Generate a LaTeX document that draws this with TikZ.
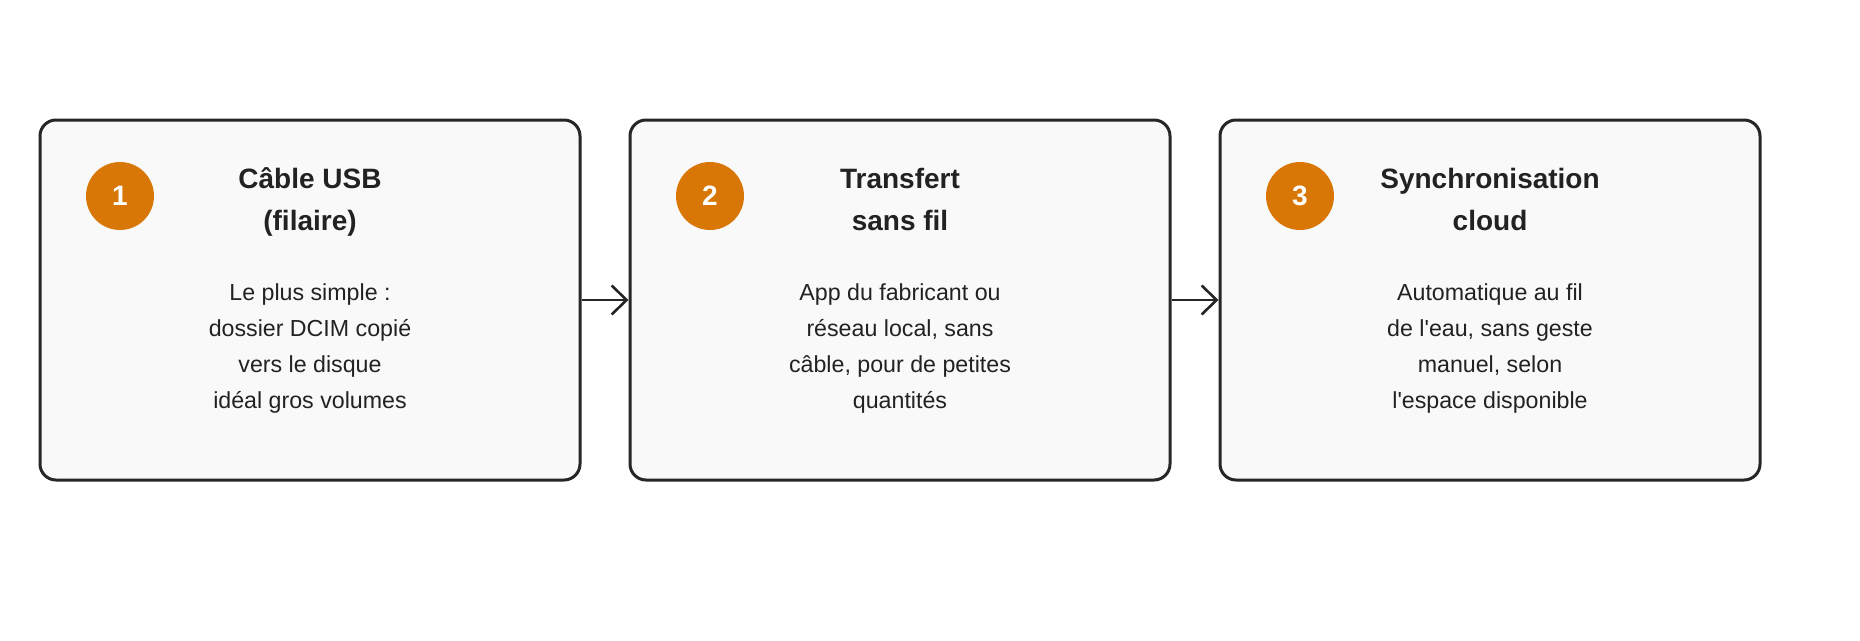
\documentclass[tikz,border=0pt]{standalone}
\usepackage{fontspec}
\setmainfont{Liberation Sans}[Ligatures=TeXOff]
\usetikzlibrary{arrows.meta}
\definecolor{boxfill}{HTML}{F9F9F9}
\definecolor{boxline}{HTML}{262626}
\definecolor{badge}{HTML}{D97706}
\definecolor{ink}{HTML}{222222}
\tikzset{
  stepbox/.style={draw=boxline, line width=3pt, fill=boxfill, rounded corners=16pt,
    minimum width=540pt, minimum height=360pt, inner sep=0pt},
  badgenode/.style={circle, fill=badge, minimum size=68pt, inner sep=0pt,
    text=white, font=\fontsize{28}{30}\selectfont\bfseries},
  titleline/.style={anchor=base, inner sep=0pt, text=ink, font=\fontsize{28}{34}\selectfont\bfseries},
  bodyline/.style={anchor=base, inner sep=0pt, text=ink, font=\fontsize{23.2}{27}\selectfont},
  flow/.style={draw=boxline, line width=2.6pt, -{Straight Barb[length=15pt,width=29pt,line width=2.6pt]}}
}
\begin{document}
\begin{tikzpicture}[x=1pt,y=-1pt]
\useasboundingbox (0,0) rectangle (1860,640);
\fill[white] (0,0) rectangle (1860,640);
% boxes
\node[stepbox] (b1) at (310,300) {};
\node[stepbox] (b2) at (900,300) {};
\node[stepbox] (b3) at (1490,300) {};
% badges
\node[badgenode] (n1) at (120,196) {1};
\node[badgenode] (n2) at (710,196) {2};
\node[badgenode] (n3) at (1300,196) {3};
% titles
\node[titleline] (t1a) at (310,188) {Câble USB};
\node[titleline] (t1b) at (310,230) {(filaire)};
\node[titleline] (t2a) at (900,188) {Transfert};
\node[titleline] (t2b) at (900,230) {sans fil};
\node[titleline] (t3a) at (1490,188) {Synchronisation};
\node[titleline] (t3b) at (1490,230) {cloud};
% bodies
\node[bodyline] (d1a) at (310,300) {Le plus simple :};
\node[bodyline] (d1b) at (310,336) {dossier DCIM copié};
\node[bodyline] (d1c) at (310,372) {vers le disque};
\node[bodyline] (d1d) at (310,408) {idéal gros volumes};
\node[bodyline] (d2a) at (900,300) {App du fabricant ou};
\node[bodyline] (d2b) at (900,336) {réseau local, sans};
\node[bodyline] (d2c) at (900,372) {câble, pour de petites};
\node[bodyline] (d2d) at (900,408) {quantités};
\node[bodyline] (d3a) at (1490,300) {Automatique au fil};
\node[bodyline] (d3b) at (1490,336) {de l'eau, sans geste};
\node[bodyline] (d3c) at (1490,372) {manuel, selon};
\node[bodyline] (d3d) at (1490,408) {l'espace disponible};
% connectors
\draw[flow] (b1.east) -- (b2.west);
\draw[flow] (b2.east) -- (b3.west);
\end{tikzpicture}
\end{document}
